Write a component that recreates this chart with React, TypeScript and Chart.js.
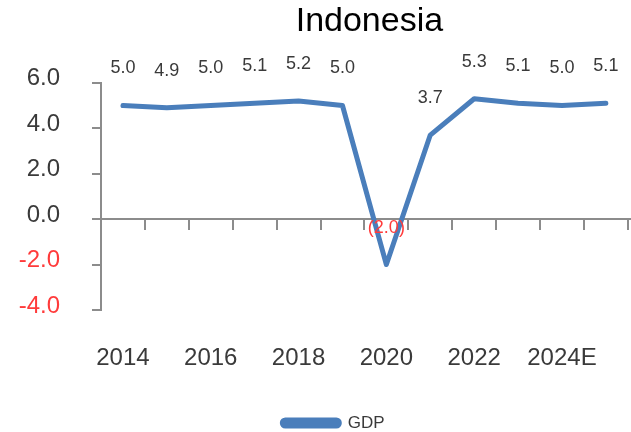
import React, { useEffect, useRef } from "react";
import { Chart, registerables } from "chart.js";

Chart.register(...registerables);

const years = ["2014", "2015", "2016", "2017", "2018", "2019", "2020", "2021", "2022", "2023", "2024E", "2025E"];
const gdp = [5.0, 4.9, 5.0, 5.1, 5.2, 5.0, -2.0, 3.7, 5.3, 5.1, 5.0, 5.1];
const shownYearLabels = ["2014", "2016", "2018", "2020", "2022", "2024E"];
const yTicks = [6, 4, 2, 0, -2, -4];

const FONT = "'Liberation Sans', Arial, sans-serif";
const AXIS_GREY = "#8c8c8c";
const RED = "#ff3b3b";
const TEXT = "#3a3a3a";
const BLUE = "#4a7ebb";

const zeroAxisPlugin = {
  id: "zeroAxis",
  beforeDatasetsDraw(chart: any) {
    const x = chart.scales.x;
    const y = chart.scales.y;
    const ctx = chart.ctx;
    const y0 = y.getPixelForValue(0);
    ctx.save();
    ctx.strokeStyle = AXIS_GREY;
    ctx.lineWidth = 2;
    ctx.beginPath();
    ctx.moveTo(chart.chartArea.left, y0);
    ctx.lineTo(chart.chartArea.right + 10, y0);
    ctx.stroke();
    const n = years.length;
    for (let i = 0; i < n; i++) {
      const a = x.getPixelForValue(i);
      const b = i + 1 < n ? x.getPixelForValue(i + 1) : a + (a - x.getPixelForValue(i - 1));
      const px = Math.round((a + b) / 2);
      ctx.beginPath();
      ctx.moveTo(px, y0);
      ctx.lineTo(px, y0 + 11);
      ctx.stroke();
    }
    ctx.restore();
  },
};

const valueLabelPlugin = {
  id: "valueLabels",
  afterDatasetsDraw(chart: any) {
    const meta = chart.getDatasetMeta(0);
    const ctx = chart.ctx;
    ctx.save();
    ctx.font = `18px ${FONT}`;
    ctx.textAlign = "center";
    ctx.textBaseline = "middle";
    meta.data.forEach((pt: any, i: number) => {
      const v = gdp[i];
      const txt = v < 0 ? `(${Math.abs(v).toFixed(1)})` : v.toFixed(1);
      ctx.fillStyle = v < 0 ? RED : TEXT;
      ctx.fillText(txt, pt.x, pt.y - 37);
    });
    ctx.restore();
  },
};

// Centre the title over the plot area and nudge the legend to the reference's spot.
const placementPlugin = {
  id: "placement",
  afterLayout(chart: any) {
    if (chart.titleBlock) {
      chart.titleBlock.left = chart.chartArea.left + 10;
      chart.titleBlock.right = chart.chartArea.right;
    }
    if (chart.legend) {
      chart.legend.left += 15;
      chart.legend.right += 15;
      chart.legend.top += 11.5;
      chart.legend.bottom += 11.5;
    }
  },
};

export default function App() {
  const ref = useRef<HTMLCanvasElement>(null);
  useEffect(() => {
    if (!ref.current) return;
    const chart = new Chart(ref.current, {
      type: "line",
      data: {
        labels: years,
        datasets: [
          {
            label: "GDP",
            data: gdp,
            borderColor: BLUE,
            backgroundColor: BLUE,
            borderWidth: 5,
            pointRadius: 0,
            tension: 0,
            borderCapStyle: "round",
            borderJoinStyle: "round",
          },
        ],
      },
      options: {
        responsive: false,
        animation: false,
        devicePixelRatio: 1,
        layout: { padding: { left: 0, right: 3, top: 0, bottom: 2 } },
        plugins: {
          title: {
            display: true,
            text: "Indonesia",
            color: "#000",
            font: { family: FONT, size: 34, weight: "normal" },
            padding: { top: 1, bottom: 41 },
          },
          legend: {
            position: "bottom",
            labels: {
              boxWidth: 57,
              boxHeight: 6,
              useBorderRadius: true,
              borderRadius: 3,
              color: TEXT,
              font: { family: FONT, size: 17 },
              padding: 0,
            },
          },
          tooltip: { enabled: false },
        },
        scales: {
          x: {
            offset: true,
            afterFit: (s: any) => {
              s.height = 93;
            },
            grid: { display: false, drawTicks: false },
            border: { display: false },
            ticks: {
              autoSkip: false,
              maxRotation: 0,
              padding: 34,
              color: TEXT,
              font: { family: FONT, size: 24 },
              callback: (_v: any, i: number) => (shownYearLabels.includes(years[i]) ? years[i] : ""),
            },
          },
          y: {
            min: -4,
            max: 6,
            afterFit: (s: any) => {
              s.width = 101;
            },
            afterBuildTicks: (s: any) => {
              s.ticks = yTicks.map((v) => ({ value: v }));
            },
            grid: {
              drawOnChartArea: false,
              drawTicks: true,
              tickLength: 9,
              color: AXIS_GREY,
              lineWidth: 2,
            },
            border: { display: true, color: AXIS_GREY, width: 2 },
            ticks: {
              padding: 32,
              labelOffset: -4,
              color: (c: any) => (c.tick && c.tick.value < 0 ? RED : TEXT),
              font: { family: FONT, size: 24 },
              callback: (v: any) => Number(v).toFixed(1),
            },
          },
        },
      },
      plugins: [zeroAxisPlugin, valueLabelPlugin, placementPlugin],
    } as any);
    return () => chart.destroy();
  }, []);
  return (
    <div style={{ position: "absolute", left: 0, top: 0, width: 631, height: 432, overflow: "hidden", background: "#fff" }}>
      <canvas ref={ref} width={640} height={432} style={{ display: "block" }} />
    </div>
  );
}
